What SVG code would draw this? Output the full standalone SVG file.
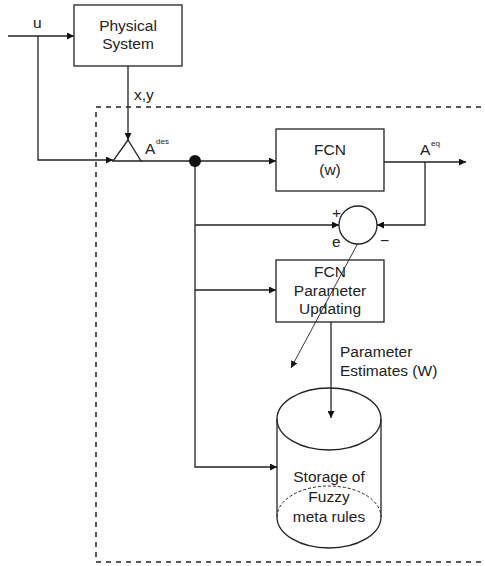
<svg xmlns="http://www.w3.org/2000/svg" width="485" height="566" viewBox="0 0 485 566">
<defs>
<marker id="ah" viewBox="0 0 10 10" refX="10" refY="5" markerWidth="7" markerHeight="7" orient="auto" markerUnits="userSpaceOnUse">
<path d="M0,0 L10,5 L0,10 z" fill="#111"/>
</marker>
</defs>
<style>
.ln{fill:none;stroke:#222;stroke-width:1.3}
.bx{fill:#fff;stroke:#222;stroke-width:1.3}
.dash{fill:none;stroke:#222;stroke-width:1.5;stroke-dasharray:5 5}
text{font-family:"Liberation Sans",Arial,sans-serif;font-size:15.5px;fill:#222}
.c{text-anchor:middle}
.sup{font-size:8px}
</style>
<rect width="485" height="566" fill="#fff"/>
<g id="boundary">
<path class="dash" d="M96,107 H485 M96,112 V562 M96,562 H485"/>
</g>
<g id="connectors">
<path class="ln" d="M8,36 H74" marker-end="url(#ah)"/>
<path class="ln" d="M38,36 V160 H113" marker-end="url(#ah)"/>
<path class="ln" d="M128,66 V140" marker-end="url(#ah)"/>
<path class="ln" d="M141,161 H276" marker-end="url(#ah)"/>
<path class="ln" d="M195,161 V467 H277" marker-end="url(#ah)"/>
<path class="ln" d="M195,225 H339" marker-end="url(#ah)"/>
<path class="ln" d="M195,290 H276" marker-end="url(#ah)"/>
<path class="ln" d="M384,162 H466" marker-end="url(#ah)"/>
<path class="ln" d="M425,162 V225 H377" marker-end="url(#ah)"/>
<path class="ln" d="M331,322 V418" marker-end="url(#ah)"/>
<path class="ln" style="stroke-width:0.9" d="M358,243 L291,368" marker-end="url(#ah)"/>
<text x="134" y="100">x,y</text>
<text x="33" y="28">u</text>
<text x="145" y="154">A</text>
<text class="sup" x="156" y="144">des</text>
<text x="420" y="155">A</text>
<text class="sup" x="431" y="146">eq</text>
<text x="340" y="357">Parameter</text>
<text x="340" y="376">Estimates (W)</text>
</g>
<g id="physical-system">
<rect class="bx" x="74" y="5" width="108" height="61"/>
<text class="c" x="128" y="31">Physical</text>
<text class="c" x="128" y="49">System</text>
</g>
<g id="triangle">
<path class="bx" d="M128,140 L113,161 L141,161 z"/>
</g>
<g id="junction">
<circle cx="195" cy="161" r="6" fill="#111"/>
</g>
<g id="fcn">
<rect class="bx" x="276" y="129" width="108" height="62"/>
<text class="c" x="330" y="155">FCN</text>
<text class="c" x="330" y="175">(w)</text>
</g>
<g id="sum">
<circle class="bx" cx="358" cy="225" r="19"/>
<text x="332" y="218">+</text>
<text x="332" y="247">e</text>
<text x="380" y="246">−</text>
</g>
<g id="param-update">
<rect class="bx" x="276" y="260" width="108" height="62" fill="none" style="fill:none"/>
<text class="c" x="330" y="277">FCN</text>
<text class="c" x="330" y="296">Parameter</text>
<text class="c" x="330" y="314">Updating</text>
</g>
<g id="storage">
<path class="ln" d="M277,419 V517 A52,31 0 0 0 381,517 V419"/>
<ellipse class="ln" cx="329" cy="419" rx="52" ry="31"/>
<path class="ln" style="stroke-dasharray:3 2;stroke-width:1" d="M277,517 A52,31 0 0 1 381,517"/>
<text class="c" x="329" y="482">Storage of</text>
<text class="c" x="329" y="502">Fuzzy</text>
<text class="c" x="329" y="522">meta rules</text>
</g>
</svg>
